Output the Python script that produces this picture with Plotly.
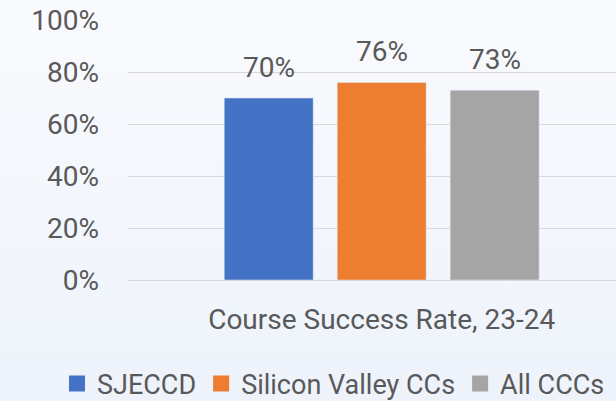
import base64
import plotly.graph_objects as go

categories = ["Course Success Rate, 23-24"]
series_names = ["SJECCD", "Silicon Valley CCs", "All CCCs"]
series_values = [0.70, 0.76, 0.73]
series_colors = ["#4472C4", "#ED7D31", "#A5A5A5"]
y_tickvals = [0, 0.2, 0.4, 0.6, 0.8, 1.0]
y_ticktext = ["0%", "20%", "40%", "60%", "80%", "100%"]

FONT = "Roboto"
TXT = "#595959"
FS = 28
BARGAP = 0.332
BARGROUPGAP = 0.2124

fig = go.Figure()
for name, val, col in zip(series_names, series_values, series_colors):
    fig.add_trace(go.Bar(x=categories, y=[val], name=name, marker_color=col,
                         showlegend=False, hoverinfo="skip"))
# legend entries with larger square symbols
for name, col in zip(series_names, series_colors):
    fig.add_trace(go.Scatter(x=[None], y=[None], mode="markers", name=name,
                             marker=dict(symbol="square", size=17, color=col),
                             showlegend=True))

# value labels above bars
n = len(series_names)
slot = (1 - BARGAP) / n
for i, val in enumerate(series_values):
    fig.add_annotation(x=0 + (i - (n - 1) / 2) * slot, y=val, xref="x", yref="y",
                       text=f"{val:.0%}", showarrow=False, yanchor="bottom",
                       yshift=12, font=dict(family=FONT, size=FS, color=TXT))

svg = ('<svg xmlns="http://www.w3.org/2000/svg" width="10" height="100" preserveAspectRatio="none">'
       '<defs><linearGradient id="g" x1="0" y1="0" x2="0" y2="1">'
       '<stop offset="0" stop-color="#FAFBFE"/><stop offset="1" stop-color="#EDF2FB"/>'
       '</linearGradient></defs><rect width="10" height="100" fill="url(#g)"/></svg>')
src = "data:image/svg+xml;base64," + base64.b64encode(svg.encode()).decode()

fig.update_layout(
    width=616, height=401,
    margin=dict(l=128, r=0, t=20, b=121, pad=0, autoexpand=False),
    paper_bgcolor="#F3F6FC",
    plot_bgcolor="rgba(0,0,0,0)",
    barmode="group", bargap=BARGAP, bargroupgap=BARGROUPGAP,
    font=dict(family=FONT, size=FS, color=TXT),
    showlegend=True,
    legend=dict(orientation="h", x=-0.1455, xanchor="left", y=-0.4, yanchor="middle",
                font=dict(family=FONT, size=27, color=TXT), bgcolor="rgba(0,0,0,0)",
                itemclick=False),
    images=[dict(source=src, xref="paper", yref="paper", x=-0.5, y=1.2,
                 sizex=2.0, sizey=1.8, sizing="stretch", layer="below",
                 xanchor="left", yanchor="top")],
    xaxis=dict(type="category", range=[-0.5, 0.4618], showgrid=False, zeroline=False,
               showline=False, ticks="", ticklabelstandoff=20,
               tickfont=dict(family=FONT, size=FS, color=TXT), fixedrange=True),
    yaxis=dict(range=[0, 1], tickvals=y_tickvals, ticktext=y_ticktext,
               showgrid=True, gridcolor="#D9D9D9", gridwidth=1,
               zeroline=True, zerolinecolor="#D9D9D9", zerolinewidth=1,
               showline=False, ticks="", ticklabelstandoff=28,
               tickfont=dict(family=FONT, size=FS, color=TXT), fixedrange=True),
)

fig.write_html("out.html", config={"displayModeBar": False},
               post_script="document.body.style.margin='0';document.body.style.overflow='hidden';")
